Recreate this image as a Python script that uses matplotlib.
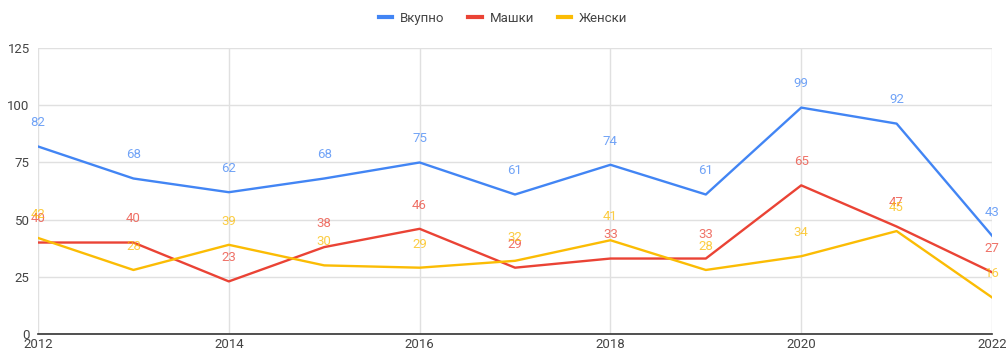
import numpy as np
import matplotlib.pyplot as plt

years = np.arange(2012, 2023)
vkupno = [82, 68, 62, 68, 75, 61, 74, 61, 99, 92, 43]
mashki = [40, 40, 23, 38, 46, 29, 33, 33, 65, 47, 27]
zhenski = [42, 28, 39, 30, 29, 32, 41, 28, 34, 45, 16]

series = [
    ('Вкупно', vkupno, '#4285F4'),
    ('Машки', mashki, '#EA4335'),
    ('Женски', zhenski, '#FBBC04'),
]

plt.rcParams['font.family'] = ['Roboto', 'DejaVu Sans']

fig = plt.figure(figsize=(10.06, 3.54), dpi=100)
ax = fig.add_axes([0.0378, 0.0565, 0.9483, 0.8075])

for name, vals, color in series:
    ax.plot(years, vals, color=color, lw=1.7, label=name, solid_joinstyle='round')
    # value labels sit a little above each point
    for x, y in zip(years, vals):
        ax.annotate(str(y), (x, y), xytext=(0, 17), textcoords='offset points',
                    ha='center', va='center', fontsize=9.5, color=color,
                    alpha=0.75, annotation_clip=False)

ax.set_xlim(2012, 2022)
ax.set_ylim(0, 125)
ax.set_xticks(np.arange(2012, 2023, 2))
ax.set_yticks(np.arange(0, 126, 25))
ax.grid(True, color='#e0e0e0', lw=1)
ax.set_axisbelow(True)
for s in ['top', 'right', 'left']:
    ax.spines[s].set_visible(False)
ax.spines['bottom'].set_color('#333333')
ax.spines['bottom'].set_linewidth(1.2)
ax.tick_params(length=0, labelsize=9.5, labelcolor='#444444')
ax.tick_params(axis='x', pad=3)
ax.tick_params(axis='y', pad=6)

fig.legend(loc='upper center', bbox_to_anchor=(0.5, 1.0), ncol=3, frameon=False,
           fontsize=9.5, handlelength=1.0, handletextpad=0.6, columnspacing=1.8,
           labelcolor='#444444')
for h in fig.legends[0].legend_handles:
    h.set_linewidth(3)

fig.savefig('out.png', dpi=100)
